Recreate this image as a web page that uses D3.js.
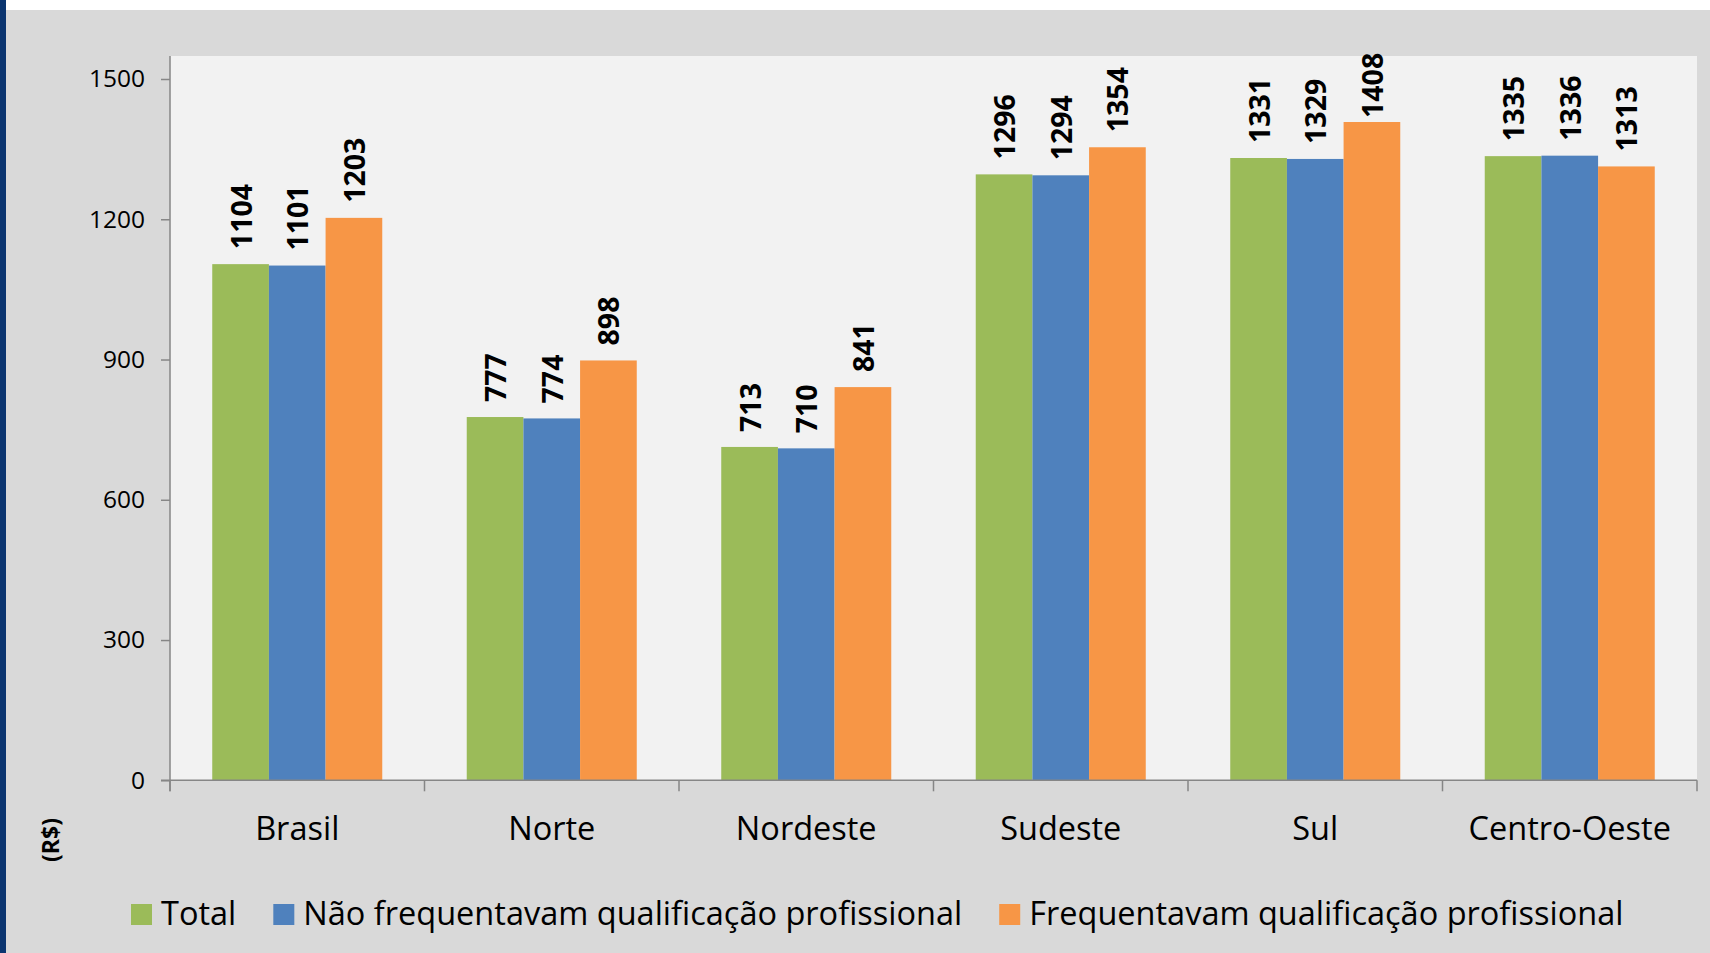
<!DOCTYPE html>
<html>
<head>
<meta charset="utf-8">
<script src="https://cdn.jsdelivr.net/npm/d3@7"></script>
<style>
  body { margin: 0; background: #fff; }
  text { font-family: "Open Sans", sans-serif; fill: #000; }
</style>
</head>
<body>
<div id="container"></div>
<script>
const categories = ['Brasil', 'Norte', 'Nordeste', 'Sudeste', 'Sul', 'Centro-Oeste'];
const seriesNames = ['Total', 'Não frequentavam qualificação profissional', 'Frequentavam qualificação profissional'];
const total = [1104, 777, 713, 1296, 1331, 1335];
const naoFrequentavam = [1101, 774, 710, 1294, 1329, 1336];
const frequentavam = [1203, 898, 841, 1354, 1408, 1313];
const yTicks = [0, 300, 600, 900, 1200, 1500];
const colors = ['#9bbb59', '#4f81bd', '#f79646'];

const series = [total, naoFrequentavam, frequentavam];

const width = 1710;
const height = 953;
const plot = { left: 170, top: 56, right: 1697, bottom: 780 };

const svg = d3.select('#container').append('svg')
  .attr('width', width)
  .attr('height', height);

// backgrounds
svg.append('rect').attr('x', 0).attr('y', 0).attr('width', width).attr('height', height).attr('fill', '#fff');
svg.append('rect').attr('x', 6).attr('y', 10).attr('width', width - 6).attr('height', height - 10).attr('fill', '#d9d9d9');
svg.append('rect').attr('x', 0).attr('y', 0).attr('width', 6).attr('height', height).attr('fill', '#0b3570');
svg.append('rect')
  .attr('x', plot.left).attr('y', plot.top)
  .attr('width', plot.right - plot.left).attr('height', plot.bottom - plot.top)
  .attr('fill', '#f2f2f2');

// scales
const y = d3.scaleLinear().domain([0, 1500]).range([780.3, 79]);
const x0 = d3.scaleBand().domain(categories).range([plot.left, plot.right]);
const step = x0.bandwidth();
const x1 = d3.scaleBand().domain(d3.range(series.length)).range([step * 0.166, step * 0.834]);

// bars
const groups = svg.append('g').selectAll('g').data(categories).enter().append('g')
  .attr('transform', d => `translate(${x0(d)},0)`);

groups.selectAll('rect')
  .data((d, i) => series.map((s, j) => ({ j, value: s[i] })))
  .enter().append('rect')
  .attr('x', d => x1(d.j))
  .attr('y', d => y(d.value))
  .attr('width', x1.bandwidth())
  .attr('height', d => y(0) - y(d.value))
  .attr('fill', d => colors[d.j]);

// value labels (kept inside the top of the plot like Excel does)
groups.selectAll('text')
  .data((d, i) => series.map((s, j) => ({ j, value: s[i] })))
  .enter().append('text')
  .attr('transform', d => {
    const cx = x1(d.j) + x1.bandwidth() / 2;
    const by = Math.max(y(d.value) - 15, plot.top + 62);
    return `translate(${cx},${by}) rotate(-90)`;
  })
  .attr('dominant-baseline', 'central')
  .style('font-size', '28.5px')
  .style('font-weight', 'bold')
  .text(d => d.value);

// y axis
const yAxis = d3.axisLeft(y).tickValues(yTicks).tickFormat(d3.format('d'))
  .tickSize(9).tickSizeOuter(0).tickPadding(16);
const yg = svg.append('g').attr('transform', `translate(${plot.left},0)`).call(yAxis);
yg.select('.domain').remove();
yg.selectAll('.tick line').attr('stroke', '#868686').attr('stroke-width', 1.5);
yg.selectAll('.tick text').style('font-size', '24.5px').attr('fill', '#000');
svg.append('line')
  .attr('x1', plot.left).attr('x2', plot.left)
  .attr('y1', plot.top).attr('y2', y(0) + 11)
  .attr('stroke', '#868686').attr('stroke-width', 1.5);

// x axis
svg.append('line')
  .attr('x1', plot.left - 9).attr('x2', plot.right)
  .attr('y1', y(0)).attr('y2', y(0))
  .attr('stroke', '#868686').attr('stroke-width', 1.5);
svg.append('g').selectAll('line')
  .data(categories.map(c => x0(c)).concat([x0.range()[1]]))
  .enter().append('line')
  .attr('x1', d => d).attr('x2', d => d)
  .attr('y1', y(0)).attr('y2', y(0) + 11)
  .attr('stroke', '#868686').attr('stroke-width', 1.5);
svg.append('g').selectAll('text').data(categories).enter().append('text')
  .attr('x', d => x0(d) + step / 2)
  .attr('y', 840)
  .attr('text-anchor', 'middle')
  .style('font-size', '32.5px')
  .text(d => d);

// axis title
svg.append('text')
  .attr('transform', 'translate(50,840) rotate(-90)')
  .attr('text-anchor', 'middle')
  .attr('dominant-baseline', 'central')
  .style('font-size', '23px')
  .style('font-weight', 'bold')
  .text('(R$)');

// legend
const legend = svg.append('g');
let lx = 131;
seriesNames.forEach((name, i) => {
  legend.append('rect')
    .attr('x', lx).attr('y', 904).attr('width', 21).attr('height', 21)
    .attr('fill', colors[i]);
  const t = legend.append('text')
    .attr('x', lx + 30).attr('y', 925)
    .style('font-size', '32.5px')
    .text(name);
  lx += 30 + t.node().getComputedTextLength() + 37;
});
</script>
</body>
</html>
